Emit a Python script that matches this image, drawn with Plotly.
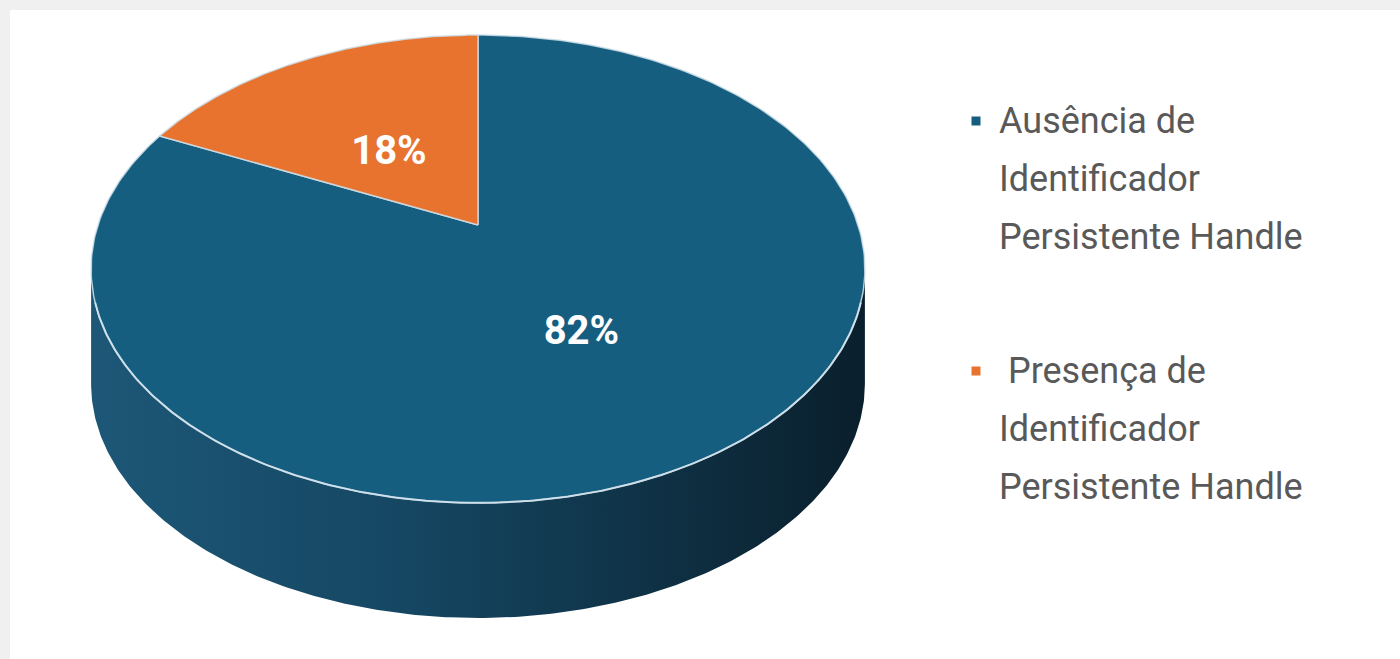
import numpy as np
import plotly.graph_objects as go

# ---- data ----
categories = ["Ausência de Identificador Persistente Handle",
              "Presença de Identificador Persistente Handle"]
legend_lines = [["Ausência de", "Identificador", "Persistente Handle"],
                [" Presença de", "Identificador", "Persistente Handle"]]
values = [82, 18]
pct_labels = ["82%", "18%"]
slice_colors = ["#165e80", "#e7732e"]

# ---- geometry (layout constants, pixel space) ----
CX, CY0 = 478, 225      # projected centre of the disc
A = 380                 # horizontal scale
K = 0.188               # perspective factor
Q = -183.4              # vertical scale
DEPTH = 115             # thickness of the pie
LABEL_R = 0.47
LABEL_DY = 12


def project(theta_deg, r=1.0):
    t = np.radians(theta_deg)
    u = r * np.sin(t)
    v = r * np.cos(t)
    d = 1 + K * v
    return CX + A * u / d, (CY0 + Q * v) / d


fig = go.Figure()

# side band (front half of the cylinder)
t_right = np.degrees(np.arccos(-K))
t_left = 360 - t_right
arc = np.linspace(t_right, t_left, 300)
xb, yb = project(arc)
xt, yt = project(arc[::-1])
side_x = np.concatenate([xb, xt])
side_y = np.concatenate([yb + DEPTH, yt])
fig.add_trace(go.Scatter(
    x=side_x, y=side_y, mode="lines", fill="toself",
    line=dict(width=0, color="rgba(0,0,0,0)"),
    fillgradient=dict(type="horizontal",
                      colorscale=[[0, "#1d5777"], [0.4, "#154763"], [1, "#0a1f2c"]]),
    hoverinfo="skip", showlegend=False))

# top-face slices (clockwise from 12 o'clock)
total = sum(values)
start = 0.0
mids = []
for name, val, col in zip(categories, values, slice_colors):
    span = 360.0 * val / total
    th = np.linspace(start, start + span, 300)
    ax, ay = project(th)
    cx0, cy0 = project(0, 0)
    xs = np.concatenate([[cx0], ax, [cx0]])
    ys = np.concatenate([[cy0], ay, [cy0]])
    fig.add_trace(go.Scatter(
        x=xs, y=ys, mode="lines", fill="toself", fillcolor=col,
        line=dict(width=1.5, color="rgba(205,222,232,0.85)"),
        name=name, hoverinfo="name", showlegend=False))
    mids.append(start + span / 2)
    start += span

# rim highlight along the front edge
hx, hy = project(np.linspace(t_right + 8, t_left - 8, 300))
fig.add_trace(go.Scatter(x=hx, y=hy, mode="lines",
                         line=dict(width=2, color="rgba(210,226,236,0.9)"),
                         hoverinfo="skip", showlegend=False))

# percentage labels
lx, ly = project(np.array(mids), LABEL_R)
fig.add_trace(go.Scatter(
    x=lx, y=ly + LABEL_DY, mode="text", text=pct_labels,
    textfont=dict(family="Roboto", size=40, color="white", weight="bold"),
    hoverinfo="skip", showlegend=False))

# legend (markers + text lines)
LEG_X = 976
LEG_TEXT_X = 997
LEG_Y = [121, 371]
LINE_H = 58
fig.add_trace(go.Scatter(
    x=[LEG_X] * len(categories), y=LEG_Y, mode="markers",
    marker=dict(symbol="square", size=9, color=slice_colors),
    hoverinfo="skip", showlegend=False))
annotations = []
for y0, lines in zip(LEG_Y, legend_lines):
    for i, line in enumerate(lines):
        annotations.append(dict(
            x=LEG_TEXT_X, y=y0 + i * LINE_H, xref="x", yref="y",
            text=line.replace(" ", "&nbsp;", 1) if line.startswith(" ") else line,
            showarrow=False, xanchor="left", yanchor="middle",
            font=dict(family="Roboto", size=36, color="#595959")))

fig.update_layout(
    width=1400, height=659,
    margin=dict(l=10, r=0, t=10, b=0),
    paper_bgcolor="#f0f0f0", plot_bgcolor="white",
    xaxis=dict(range=[10, 1400], visible=False, fixedrange=True),
    yaxis=dict(range=[659, 10], visible=False, fixedrange=True),
    annotations=annotations,
    showlegend=False,
)

fig.write_html("out.html",
               config={"displayModeBar": False},
               post_script="document.body.style.margin='0';")
